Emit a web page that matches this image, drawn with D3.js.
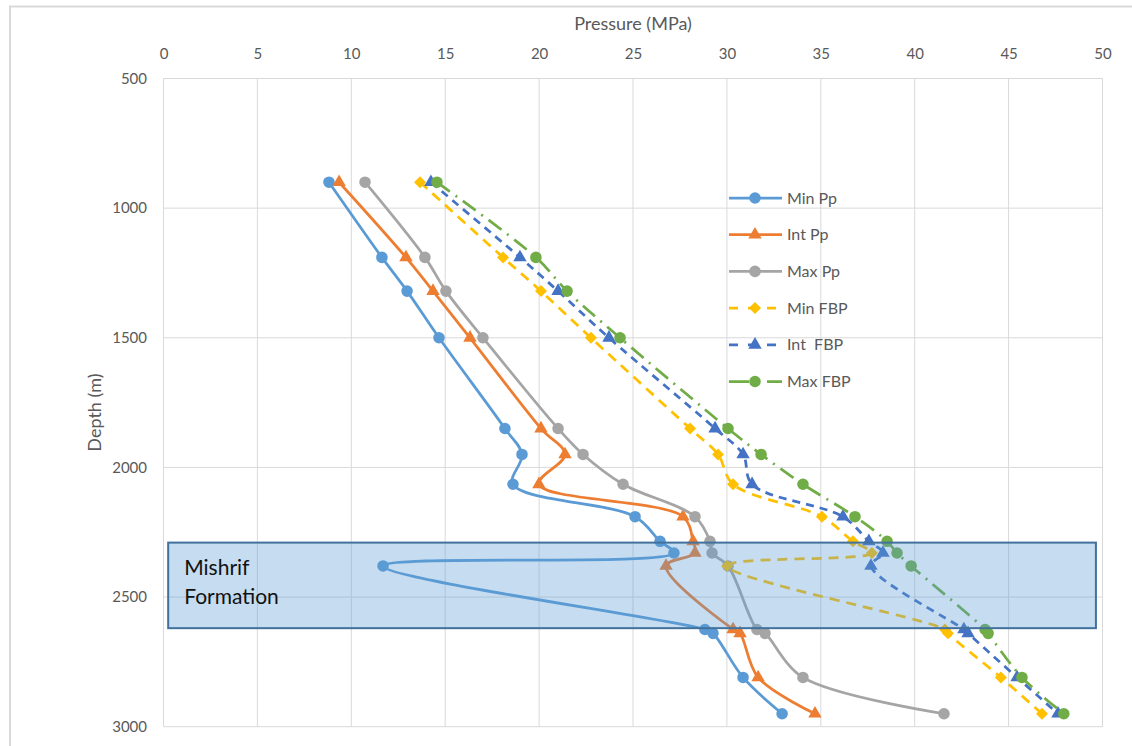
<!DOCTYPE html>
<html>
<head>
<meta charset="utf-8">
<script src="https://cdn.jsdelivr.net/npm/d3@7"></script>
<style>
  body { margin: 0; background: #fff; }
  svg { display: block; font-family: Lato, "Open Sans", sans-serif; }
</style>
</head>
<body>
<svg id="chart" width="1132" height="746"></svg>
<script>
// Depth of each measurement (m)
const depths = [900, 1190, 1320, 1500, 1850, 1950, 2065, 2190, 2285, 2330, 2380, 2625, 2640, 2810, 2950];

// Pore pressure estimates (MPa)
const minPp = [8.81, 11.63, 12.97, 14.67, 18.18, 19.09, 18.61, 25.11, 26.44, 27.18, 11.69, 28.83, 29.26, 30.86, 32.94];
const intPp = [9.35, 12.91, 14.35, 16.32, 20.10, 21.38, 19.99, 27.66, 28.20, 28.30, 26.76, 30.33, 30.70, 31.66, 34.69];
const maxPp = [10.73, 13.92, 15.04, 17.01, 21.01, 22.34, 24.47, 28.30, 29.10, 29.21, 30.06, 31.60, 32.03, 34.05, 41.56];

// Formation breakdown pressure estimates (MPa)
const minFbp = [13.66, 18.08, 20.10, 22.76, 28.04, 29.53, 30.33, 35.06, 36.71, 37.72, 30.01, 41.61, 41.77, 44.59, 46.78];
const intFbp = [14.24, 18.98, 21.01, 23.72, 29.37, 30.86, 31.34, 36.18, 37.56, 38.31, 37.67, 42.62, 42.84, 45.45, 47.63];
const maxFbp = [14.56, 19.83, 21.49, 24.31, 30.06, 31.82, 34.05, 36.82, 38.53, 39.06, 39.81, 43.75, 43.91, 45.71, 47.94];

const seriesNames = ["Min Pp", "Int Pp", "Max Pp", "Min FBP", "Int  FBP", "Max FBP"];
const seriesValues = [minPp, intPp, maxPp, minFbp, intFbp, maxFbp];

// Axis ticks
const pressureTicks = [0, 5, 10, 15, 20, 25, 30, 35, 40, 45, 50];
const depthTicks = [500, 1000, 1500, 2000, 2500, 3000];

// Mishrif Formation interval (depth, m) and its horizontal span (MPa)
const mishrifDepth = [2290, 2620];
const mishrifPressure = [0.25, 49.65];
const mishrifLabel = ["Mishrif", "Formation"];

// Visual style for each series
const styles = [
  { color: "#5B9BD5", marker: "circle",   dash: null },
  { color: "#ED7D31", marker: "triangle", dash: null },
  { color: "#A5A5A5", marker: "circle",   dash: null },
  { color: "#FFC000", marker: "diamond",  dash: "10,7" },
  { color: "#4472C4", marker: "triangle", dash: "8,6" },
  { color: "#70AD47", marker: "circle",   dash: "16,7,2,7" }
];

const svg = d3.select("#chart");
const plot = { left: 163.5, right: 1102.5, top: 78.5, bottom: 726.7 };

const x = d3.scaleLinear().domain([0, 50]).range([plot.left, plot.right]);
const y = d3.scaleLinear().domain([500, 3000]).range([plot.top, plot.bottom]);

// Chart area frame
svg.append("rect")
  .attr("x", 10).attr("y", 6.5).attr("width", 1200).attr("height", 800)
  .attr("fill", "none").attr("stroke", "#D9D9D9").attr("stroke-width", 2);

// Gridlines
const grid = svg.append("g").attr("stroke", "#D9D9D9").attr("stroke-width", 1);
grid.selectAll("line.v").data(pressureTicks).join("line")
  .attr("class", "v")
  .attr("x1", d => x(d)).attr("x2", d => x(d))
  .attr("y1", plot.top).attr("y2", plot.bottom);
grid.selectAll("line.h").data(depthTicks).join("line")
  .attr("class", "h")
  .attr("x1", plot.left).attr("x2", plot.right)
  .attr("y1", d => y(d)).attr("y2", d => y(d));

// Symbols
const symbolFor = {
  circle: d3.symbol().type(d3.symbolCircle).size(105),
  triangle: d3.symbol().type(d3.symbolTriangle).size(78),
  diamond: d3.symbol().type(d3.symbolSquare).size(72)
};
function markerPath(kind) { return symbolFor[kind](); }
function markerTransform(kind, px, py) {
  return kind === "diamond" ? `translate(${px},${py}) rotate(45)` : `translate(${px},${py})`;
}

// Series lines and markers
const line = d3.line()
  .x(d => x(d[0]))
  .y(d => y(d[1]))
  .curve(d3.curveCatmullRom.alpha(0.5));

const seriesG = svg.append("g");
seriesValues.forEach((vals, i) => {
  const st = styles[i];
  const pts = vals.map((v, k) => [v, depths[k]]);
  const g = seriesG.append("g");
  g.append("path")
    .attr("d", line(pts))
    .attr("fill", "none")
    .attr("stroke", st.color)
    .attr("stroke-width", 2.75)
    .attr("stroke-linecap", st.dash ? "butt" : "round")
    .attr("stroke-dasharray", st.dash);
  g.selectAll("path.m").data(pts).join("path")
    .attr("class", "m")
    .attr("d", markerPath(st.marker))
    .attr("transform", d => markerTransform(st.marker, x(d[0]), y(d[1])))
    .attr("fill", st.color);
});

// Mishrif Formation band
svg.append("rect")
  .attr("x", x(mishrifPressure[0]))
  .attr("y", y(mishrifDepth[0]))
  .attr("width", x(mishrifPressure[1]) - x(mishrifPressure[0]))
  .attr("height", y(mishrifDepth[1]) - y(mishrifDepth[0]))
  .attr("fill", "#5B9BD5").attr("fill-opacity", 0.35)
  .attr("stroke", "#41719C").attr("stroke-width", 2);
svg.append("g").selectAll("text").data(mishrifLabel).join("text")
  .attr("x", x(mishrifPressure[0]) + 16)
  .attr("y", (d, i) => y(mishrifDepth[0]) + 32 + i * 29.5)
  .attr("font-size", 21)
  .attr("fill", "#111")
  .text(d => d);

// Legend
const legend = svg.append("g");
seriesNames.forEach((name, i) => {
  const st = styles[i];
  const ly = 198 + i * 36.7;
  const row = legend.append("g");
  row.append("line")
    .attr("x1", 729).attr("x2", 782).attr("y1", ly).attr("y2", ly)
    .attr("stroke", st.color).attr("stroke-width", 2.75)
    .attr("stroke-dasharray", st.dash ? (i === 5 ? "20,8,2,8" : "9,10") : null);
  row.append("path")
    .attr("d", markerPath(st.marker))
    .attr("transform", markerTransform(st.marker, 755, ly))
    .attr("fill", st.color);
  row.append("text")
    .attr("x", 787).attr("y", ly + 5.5)
    .attr("font-size", 16).attr("fill", "#595959")
    .style("white-space", "pre")
    .text(name);
});

// Axes
const xAxis = svg.append("g")
  .attr("transform", `translate(0,${plot.top})`)
  .call(d3.axisTop(x).tickValues(pressureTicks).tickFormat(d3.format("d")).tickSize(0).tickPadding(20));
const yAxis = svg.append("g")
  .attr("transform", `translate(${plot.left},0)`)
  .call(d3.axisLeft(y).tickValues(depthTicks).tickFormat(d3.format("d")).tickSize(0).tickPadding(16.5));
[xAxis, yAxis].forEach(a => {
  a.select(".domain").remove();
  a.selectAll("text").attr("fill", "#595959").attr("font-size", 15)
    .attr("font-family", "Lato, 'Open Sans', sans-serif");
});

// Axis titles
svg.append("text")
  .attr("x", (plot.left + plot.right) / 2).attr("y", 30)
  .attr("text-anchor", "middle")
  .attr("font-size", 18).attr("fill", "#595959")
  .text("Pressure (MPa)");
svg.append("text")
  .attr("transform", `translate(101,${(plot.top + plot.bottom) / 2 + 10}) rotate(-90)`)
  .attr("text-anchor", "middle")
  .attr("font-size", 18).attr("fill", "#595959")
  .text("Depth (m)");
</script>
</body>
</html>
